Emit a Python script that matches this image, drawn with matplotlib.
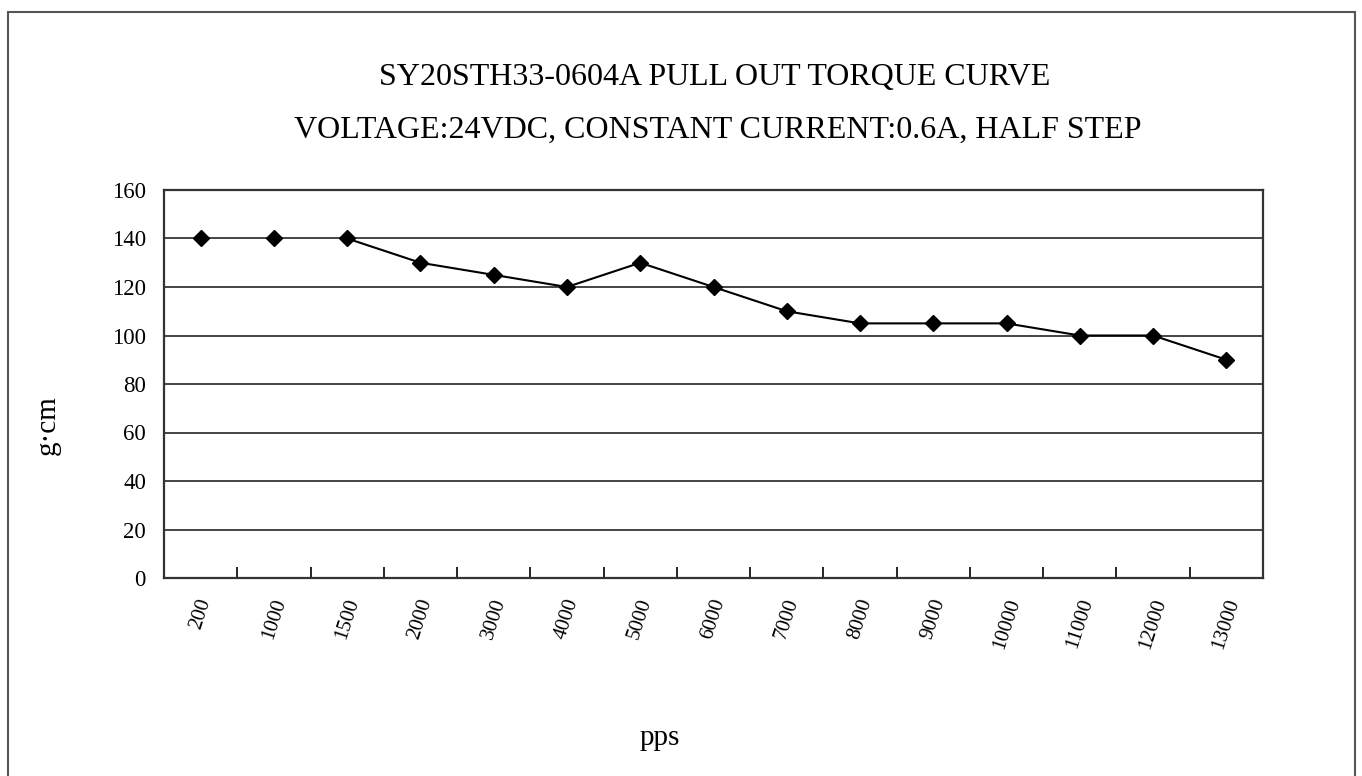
import matplotlib.pyplot as plt
from matplotlib.patches import Rectangle

speeds = ["200", "1000", "1500", "2000", "3000", "4000", "5000", "6000",
          "7000", "8000", "9000", "10000", "11000", "12000", "13000"]
torque = [140, 140, 140, 130, 125, 120, 130, 120, 110, 105, 105, 105, 100, 100, 90]
yticks = [0, 20, 40, 60, 80, 100, 120, 140, 160]

plt.rcParams["font.family"] = ["Liberation Serif", "DejaVu Serif"]

W, H = 1362, 776
fig = plt.figure(figsize=(W / 100, H / 100), dpi=100)

# outer chart frame
fig.patches.append(Rectangle((8 / W, -0.01), (1355 - 8) / W, 1 - 12 / H + 0.01,
                             transform=fig.transFigure, fill=False,
                             edgecolor="#555555", linewidth=1.5))

left, right, top, bottom = 164, 1263, 190, 578
ax = fig.add_axes([left / W, 1 - bottom / H, (right - left) / W, (bottom - top) / H])

x = list(range(len(speeds)))
# first points stand alone, the curve starts at 1500 pps
ax.plot(x[2:], torque[2:], color="black", linewidth=1.5, zorder=3)
ax.plot(x, torque, linestyle="none", marker="D", markersize=8,
        color="black", zorder=4)

ax.set_xlim(-0.5, len(speeds) - 0.5)
ax.set_ylim(0, 160)
ax.set_yticks(yticks)
ax.set_yticklabels([str(v) for v in yticks], fontsize=16.5)
ax.tick_params(axis="y", length=0, pad=13)
ax.yaxis.grid(True, color="#444444", linewidth=1.4)
ax.set_axisbelow(True)

# ticks sit on category boundaries, labels at category centres
ax.set_xticks([i + 0.5 for i in x[:-1]], minor=False)
ax.set_xticklabels([])
ax.set_xticks(x, minor=True)
ax.set_xticklabels(speeds, minor=True, rotation=72, fontsize=15,
                   ha="center", va="top")
ax.tick_params(axis="x", which="major", direction="in", length=8, width=1.2)
ax.tick_params(axis="x", which="minor", length=0, pad=13)

for s in ax.spines.values():
    s.set_color("#333333")
    s.set_linewidth(1.6)

fig.text(715 / W, 1 - 78 / H, "SY20STH33-0604A PULL OUT TORQUE CURVE",
         ha="center", va="center", fontsize=23)
fig.text(718 / W, 1 - 130 / H, "VOLTAGE:24VDC, CONSTANT CURRENT:0.6A, HALF STEP",
         ha="center", va="center", fontsize=23)
fig.text(48 / W, 1 - 425 / H, "g·cm", rotation=90, ha="center", va="center", fontsize=21)
fig.text(660 / W, 1 - 738 / H, "pps", ha="center", va="center", fontsize=21)

fig.savefig("out.png", dpi=100)
